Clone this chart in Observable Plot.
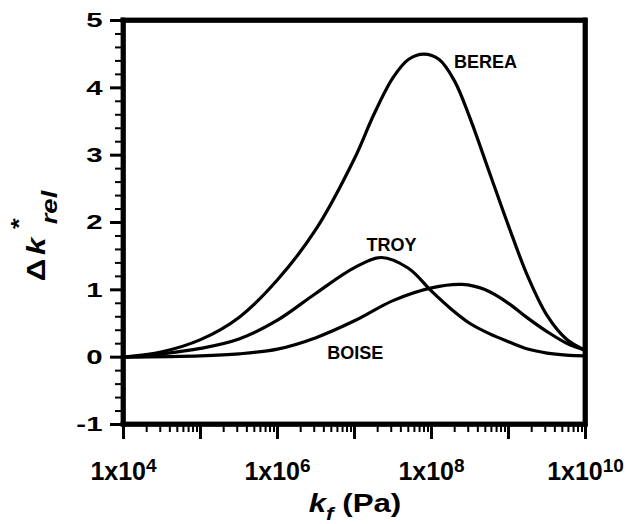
<!DOCTYPE html>
<html>
<head>
<meta charset="utf-8">
<script src="https://cdn.jsdelivr.net/npm/d3@7"></script>
<script src="https://cdn.jsdelivr.net/npm/@observablehq/plot@0.6"></script>
<style>
  html, body { margin: 0; padding: 0; background: #fff; }
  #chart svg { display: block; }
  #chart svg [aria-label="frame"] { stroke-width: 4.5px !important; }
  #chart svg g[aria-label="x-minor tick"] path, #chart svg g[aria-label="y-minor tick"] path { stroke-width: 2px !important; }
  #chart svg g[aria-label="x-major tick"] path, #chart svg g[aria-label="x-axis tick"] path, #chart svg g[aria-label="y-axis tick"] path { stroke-width: 3px !important; }
</style>
</head>
<body>
<div id="chart"></div>
<script>
// ---- data ----
// exponents of k_f (Pa) and Δk*_rel values for each rock
const bereaLogKf = [4, 4.5, 5, 5.5, 6, 6.5, 7, 7.25, 7.5, 7.7, 7.9, 8.1, 8.3, 8.5, 8.75, 9, 9.25, 9.5, 9.75, 10];
const bereaValue = [0, 0.08, 0.26, 0.59, 1.15, 1.9, 2.95, 3.6, 4.15, 4.42, 4.5, 4.42, 4.1, 3.55, 2.75, 1.95, 1.2, 0.62, 0.27, 0.1];

const troyLogKf = [4, 4.5, 5, 5.5, 6, 6.5, 7, 7.35, 7.7, 8, 8.25, 8.5, 8.75, 9, 9.25, 9.5, 9.75, 10];
const troyValue = [0, 0.05, 0.13, 0.27, 0.55, 0.95, 1.33, 1.48, 1.32, 0.98, 0.72, 0.5, 0.35, 0.23, 0.12, 0.06, 0.03, 0.02];

const boiseLogKf = [4, 5, 5.5, 6, 6.5, 7, 7.5, 8, 8.4, 8.7, 9, 9.25, 9.5, 9.75, 10];
const boiseValue = [0, 0.02, 0.05, 0.12, 0.29, 0.54, 0.84, 1.03, 1.08, 1.0, 0.8, 0.58, 0.38, 0.21, 0.1];

const labelNames = ["BEREA", "TROY", "BOISE"];
const labelLogKf = [8.7, 7.48, 7.01];
const labelValue = [4.38, 1.66, 0.06];

// tick values
const xLabeledExp = [4, 6, 8, 10];
const xUnlabeledExp = [5, 7, 9];
const xMinorMult = [2, 3, 4, 5, 6, 7, 8, 9];
const yMajor = [-1, 0, 1, 2, 3, 4, 5];
const yMinor = [-0.8, -0.6, -0.4, -0.2, 0.2, 0.4, 0.6, 0.8, 1.2, 1.4, 1.6, 1.8,
                2.2, 2.4, 2.6, 2.8, 3.2, 3.4, 3.6, 3.8, 4.2, 4.4, 4.6, 4.8];

// ---- build tables ----
const series = [
  {name: "BEREA", logKf: bereaLogKf, value: bereaValue},
  {name: "TROY", logKf: troyLogKf, value: troyValue},
  {name: "BOISE", logKf: boiseLogKf, value: boiseValue}
];
const rows = series.flatMap(s => s.logKf.map((e, i) => ({series: s.name, kf: Math.pow(10, e), value: s.value[i]})));
const labels = labelNames.map((n, i) => ({name: n, kf: Math.pow(10, labelLogKf[i]), value: labelValue[i]}));

const xLabeled = xLabeledExp.map(e => Math.pow(10, e));
const xUnlabeled = xUnlabeledExp.map(e => Math.pow(10, e));
const xMinor = d3.range(4, 10).flatMap(e => xMinorMult.map(m => m * Math.pow(10, e)));

// frame edges as filled bands (domain corners)
const xDom = [1e4, 1e10];
const yDom = [-1, 5];
const edges = [
  {x1: xDom[0], x2: xDom[0], y1: yDom[0], y2: yDom[1]},
  {x1: xDom[1], x2: xDom[1], y1: yDom[0], y2: yDom[1]},
  {x1: xDom[0], x2: xDom[1], y1: yDom[0], y2: yDom[0]},
  {x1: xDom[0], x2: xDom[1], y1: yDom[1], y2: yDom[1]}
];

const FONT = "'Liberation Sans', Arial, Helvetica, sans-serif";
const HALF = 2.4;

const chart = Plot.plot({
  width: 628,
  height: 524,
  marginLeft: 123,
  marginRight: 43,
  marginTop: 20,
  marginBottom: 100,
  style: {fontFamily: FONT, background: "#fff", color: "#000", overflow: "visible"},
  x: {type: "log", domain: xDom},
  y: {domain: yDom},
  marks: [
    Plot.axisX(xMinor, {tickSize: 8, strokeWidth: 2, tickFormat: () => "", label: null, ariaLabel: "x-minor"}),
    Plot.axisX(xUnlabeled, {tickSize: 15, strokeWidth: 3, tickFormat: () => "", label: null, ariaLabel: "x-major"}),
    Plot.axisX(xLabeled, {tickSize: 15, strokeWidth: 3, tickPadding: 23, fontSize: 25, fontWeight: "bold",
      tickFormat: d => String(Math.round(Math.log10(d))), label: null, ariaLabel: "x-axis"}),
    Plot.axisY(yMinor, {tickSize: 8, strokeWidth: 2, tickFormat: () => "", label: null, ariaLabel: "y-minor"}),
    Plot.axisY(yMajor, {tickSize: 13, strokeWidth: 3, tickPadding: 8, fontSize: 21, fontWeight: "bold",
      tickFormat: d => String(d), label: null, ariaLabel: "y-axis"}),
    Plot.line(rows, {x: "kf", y: "value", z: "series", stroke: "#000", strokeWidth: 3.2, curve: "catmull-rom"}),
    Plot.text(labels, {x: "kf", y: "value", text: "name", fontSize: 18, fontWeight: "bold", fill: "#000"}),
    Plot.frame({stroke: "#000", strokeWidth: 4.5}),
    Plot.rect(edges, {x1: "x1", x2: "x2", y1: "y1", y2: "y2", fill: "#000",
      insetLeft: -HALF, insetRight: -HALF, insetTop: -HALF, insetBottom: -HALF, ariaLabel: "frame-band"})
  ]
});

document.getElementById("chart").appendChild(chart);
const svg = d3.select(chart);

// wide lettering of the y tick labels (as in the reference)
svg.selectAll('g[aria-label="y-axis tick label"] text').each(function() {
  const t = d3.select(this);
  const tr = t.attr("transform") || "";
  t.attr("transform", tr + " scale(1.4,1)");
});

// superscript exponents on the x tick labels: 1x10^n
svg.selectAll('g[aria-label="x-axis tick label"] text').each(function() {
  const t = d3.select(this);
  const exp = t.text();
  if (!exp) return;
  t.text(null);
  t.append("tspan").text("1x10");
  t.append("tspan").attr("dy", "-0.42em").attr("font-size", 19).text(exp);
});

// x axis title: k_f (Pa)
const xt = svg.append("text")
  .attr("transform", "translate(355,512) scale(1.25,1)")
  .attr("text-anchor", "middle")
  .attr("font-family", FONT).attr("font-weight", "bold").attr("font-size", 25)
  .attr("fill", "#000");
xt.append("tspan").attr("font-style", "italic").text("k");
xt.append("tspan").attr("font-style", "italic").attr("font-size", 18).attr("dy", 8).text("f");
xt.append("tspan").attr("dy", -8).text(" (Pa)");

// y axis title: Δ k*_rel (rotated)
const yt = svg.append("text")
  .attr("transform", "translate(45,270) rotate(-90) scale(1.25,1)")
  .attr("font-family", FONT).attr("font-weight", "bold").attr("font-size", 25)
  .attr("fill", "#000");
yt.append("tspan").attr("x", 0).attr("y", 0).text("Δ");
yt.append("tspan").attr("x", 19).attr("y", 0).attr("font-style", "italic").text("k");
yt.append("tspan").attr("x", 37).attr("y", -19).attr("font-size", 22).text("*");
yt.append("tspan").attr("x", 50).attr("y", 12).attr("font-size", 22).attr("font-style", "italic").text("rel");
</script>
</body>
</html>
